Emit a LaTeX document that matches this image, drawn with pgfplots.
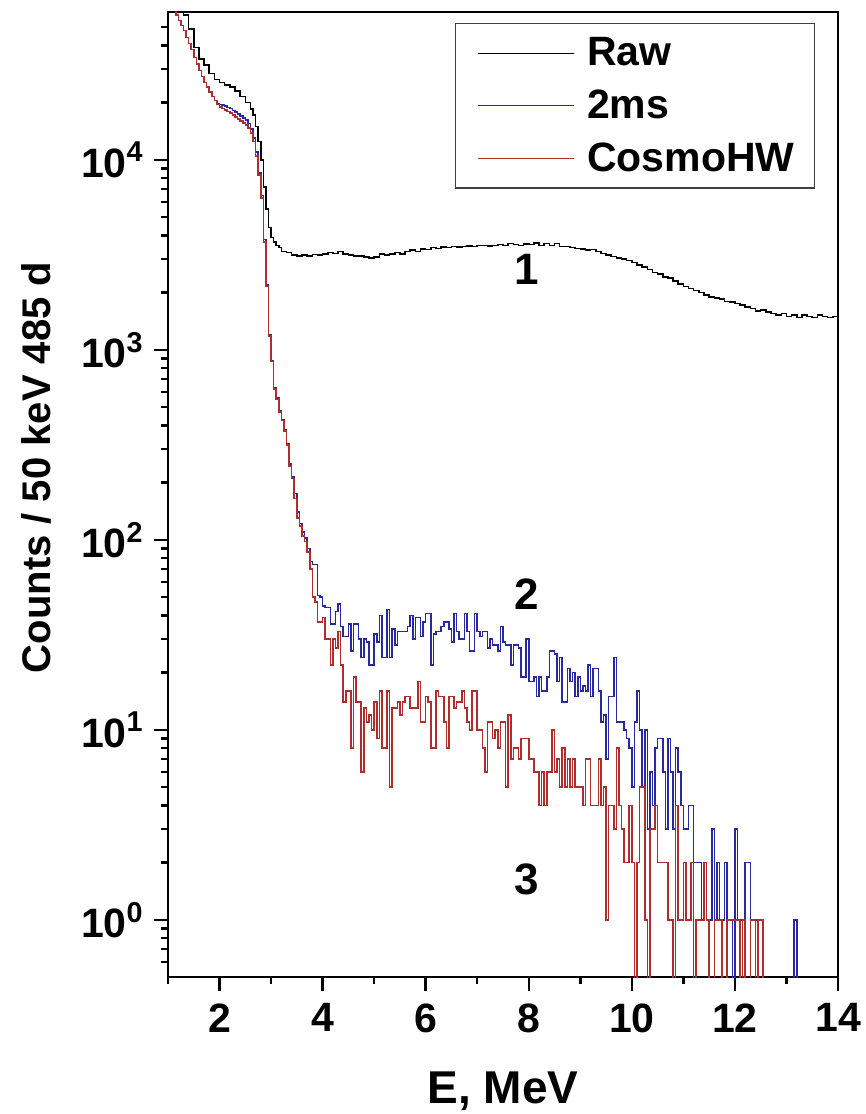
\documentclass[border=0pt]{standalone}
\usepackage{fontspec}
\setmainfont{Liberation Sans}
\usepackage{pgfplots}
\pgfplotsset{compat=1.18}
\usepackage{pgfplotstable}
\definecolor{cblue}{RGB}{40,40,160}
\definecolor{cred}{RGB}{175,45,45}

\pgfplotstableread[row sep=\\]{
E y\\
1.0 100000\\ 1.1 85000\\ 1.2 70000\\ 1.3 58000\\ 1.4 49000\\ 1.5 39000\\ 1.6 34000\\ 1.7 31500\\
1.8 28500\\ 1.9 26500\\ 2.0 25500\\ 2.1 24800\\ 2.2 24200\\ 2.3 23000\\ 2.4 21500\\ 2.5 20000\\
2.6 18500\\ 2.65 17200\\ 2.70 15000\\ 2.75 12500\\ 2.80 10000\\ 2.85 7200\\ 2.90 5500\\ 2.95 4400\\
3.00 3900\\ 3.05 3700\\ 3.10 3550\\ 3.15 3450\\ 3.20 3300\\ 3.3 3250\\ 3.4 3150\\ 3.5 3120\\
3.6 3150\\ 3.7 3120\\ 3.8 3180\\ 3.9 3150\\ 4.0 3200\\ 4.1 3250\\ 4.2 3220\\ 4.3 3300\\
4.4 3200\\ 4.5 3150\\ 4.6 3120\\ 4.7 3120\\ 4.8 3080\\ 4.9 3050\\ 5.0 3080\\ 5.1 3200\\
5.2 3150\\ 5.3 3200\\ 5.4 3250\\ 5.5 3200\\ 5.6 3300\\ 5.7 3350\\ 5.8 3300\\ 5.9 3400\\
6.0 3380\\ 6.1 3450\\ 6.2 3420\\ 6.3 3480\\ 6.4 3450\\ 6.5 3500\\ 6.6 3480\\ 6.7 3500\\
6.8 3520\\ 6.9 3500\\ 7.0 3550\\ 7.1 3550\\ 7.2 3520\\ 7.3 3550\\ 7.4 3580\\ 7.5 3550\\
7.6 3620\\ 7.7 3580\\ 7.8 3550\\ 7.9 3600\\ 8.0 3580\\ 8.1 3650\\ 8.2 3550\\ 8.3 3620\\
8.4 3550\\ 8.5 3620\\ 8.6 3500\\ 8.7 3500\\ 8.8 3450\\ 8.9 3420\\ 9.0 3400\\ 9.1 3350\\
9.2 3380\\ 9.3 3300\\ 9.4 3220\\ 9.5 3150\\ 9.6 3100\\ 9.7 3050\\ 9.8 3000\\ 9.9 2950\\
10.0 2880\\ 10.1 2800\\ 10.2 2720\\ 10.3 2650\\ 10.4 2550\\ 10.5 2500\\ 10.6 2420\\ 10.7 2380\\
10.8 2300\\ 10.9 2220\\ 11.0 2150\\ 11.1 2100\\ 11.2 2050\\ 11.3 2000\\ 11.4 1950\\ 11.5 1900\\
11.6 1880\\ 11.7 1850\\ 11.8 1800\\ 11.9 1780\\ 12.0 1750\\ 12.1 1720\\ 12.2 1680\\ 12.3 1650\\
12.4 1600\\ 12.5 1620\\ 12.6 1580\\ 12.7 1550\\ 12.8 1520\\ 12.9 1550\\ 13.0 1500\\ 13.1 1520\\
13.2 1480\\ 13.3 1520\\ 13.4 1500\\ 13.5 1480\\ 13.6 1520\\ 13.7 1500\\ 13.8 1480\\ 13.9 1500\\
14.0 1500\\
}\rawdata

\pgfplotstableread[row sep=\\]{
E y\\
1.00 80000\\ 1.05 70000\\ 1.10 62000\\ 1.15 58000\\ 1.20 54000\\ 1.25 51000\\ 1.30 48000\\ 1.35 44000\\
1.40 41000\\ 1.45 38000\\ 1.50 34500\\ 1.55 32000\\ 1.60 29500\\ 1.65 27500\\ 1.70 25500\\ 1.75 24200\\
1.80 22800\\ 1.85 21500\\ 1.90 20500\\ 1.95 19800\\ 2.00 19600\\ 2.05 19400\\ 2.10 19200\\ 2.15 18900\\
2.20 18600\\ 2.25 18200\\ 2.30 17800\\ 2.35 17400\\ 2.40 17000\\ 2.45 16600\\ 2.50 16200\\ 2.55 15500\\
2.60 14500\\ 2.65 13000\\ 2.70 11000\\ 2.75 8500\\ 2.80 6500\\ 2.85 3800\\ 2.90 2200\\ 2.95 1200\\
3.00 880\\ 3.05 630\\ 3.10 560\\ 3.15 480\\ 3.20 430\\ 3.25 380\\ 3.30 320\\ 3.35 250\\
3.40 214\\ 3.45 175\\ 3.50 140\\ 3.55 122\\ 3.60 110\\ 3.65 102\\ 3.70 90\\ 3.75 77\\
3.80 74\\ 3.85 74\\ 3.90 51\\ 3.95 50\\ 4.00 45\\ 4.05 44\\ 4.10 44\\ 4.15 36\\
4.20 36\\ 4.25 42\\ 4.30 46\\ 4.35 35\\ 4.40 31\\ 4.45 31\\ 4.50 36\\ 4.55 26\\
4.60 36\\ 4.65 36\\ 4.70 30\\ 4.75 24\\ 4.80 30\\ 4.85 29\\ 4.90 22\\ 4.95 22\\
5.00 32\\ 5.05 29\\ 5.10 40\\ 5.15 24\\ 5.20 24\\ 5.25 43\\ 5.30 24\\ 5.35 34\\
5.40 28\\ 5.45 33\\ 5.50 33\\ 5.55 33\\ 5.60 33\\ 5.65 35\\ 5.70 40\\ 5.75 30\\
5.80 39\\ 5.85 39\\ 5.90 31\\ 5.95 37\\ 6.00 41\\ 6.05 41\\ 6.10 22\\ 6.15 32\\
6.20 33\\ 6.25 33\\ 6.30 35\\ 6.35 37\\ 6.40 37\\ 6.45 34\\ 6.50 29\\ 6.55 41\\
6.60 33\\ 6.65 30\\ 6.70 30\\ 6.75 41\\ 6.80 33\\ 6.85 26\\ 6.90 26\\ 6.95 41\\
7.00 33\\ 7.05 31\\ 7.10 33\\ 7.15 33\\ 7.20 27\\ 7.25 30\\ 7.30 28\\ 7.35 28\\
7.40 26\\ 7.45 35\\ 7.50 29\\ 7.55 28\\ 7.60 28\\ 7.65 22\\ 7.70 28\\ 7.75 28\\
7.80 27\\ 7.85 19\\ 7.90 19\\ 7.95 30\\ 8.00 18\\ 8.05 18\\ 8.10 19\\ 8.15 15\\
8.20 19\\ 8.25 16\\ 8.30 16\\ 8.35 19\\ 8.40 26\\ 8.45 26\\ 8.50 25\\ 8.55 18\\
8.60 24\\ 8.65 14\\ 8.70 14\\ 8.75 21\\ 8.80 18\\ 8.85 20\\ 8.90 15\\ 8.95 19\\
9.00 16\\ 9.05 17\\ 9.10 16\\ 9.15 22\\ 9.20 15\\ 9.25 21\\ 9.30 21\\ 9.35 16\\
9.40 11\\ 9.45 12\\ 9.50 7\\ 9.55 15\\ 9.60 15\\ 9.65 24\\ 9.70 11\\ 9.75 11\\
9.80 11\\ 9.85 10\\ 9.90 9\\ 9.95 8\\ 10.00 5\\ 10.05 11\\ 10.10 16\\ 10.15 10\\
10.20 5\\ 10.25 10\\ 10.30 3\\ 10.35 6\\ 10.40 4\\ 10.45 8\\ 10.50 9\\ 10.55 9\\
10.60 6\\ 10.65 3\\ 10.70 9\\ 10.75 6\\ 10.80 3\\ 10.85 8\\ 10.90 6\\ 10.95 4\\
11.00 3\\ 11.05 3\\ 11.10 4\\ 11.15 4\\ 11.20 2\\ 11.25 2\\ 11.30 2\\ 11.35 1\\
11.40 2\\ 11.45 1\\ 11.50 1\\ 11.55 3\\ 11.60 1\\ 11.65 2\\ 11.70 1\\ 11.75 1\\
11.80 2\\ 11.85 1\\ 11.90 1\\ 11.95 0.1\\ 12.00 3\\ 12.05 1\\ 12.10 1\\ 12.15 1\\
12.20 2\\ 12.25 2\\ 12.30 1\\ 12.35 1\\ 12.40 1\\ 12.45 1\\ 12.50 1\\ 12.55 0.1\\
13.15 1\\ 13.20 0.1\\ 13.25 0.1\\
}\bluedata

\pgfplotstableread[row sep=\\]{
E y\\
1.00 80000\\ 1.05 70000\\ 1.10 62000\\ 1.15 58000\\ 1.20 54000\\ 1.25 51000\\ 1.30 48000\\ 1.35 44000\\
1.40 41000\\ 1.45 38000\\ 1.50 34500\\ 1.55 32000\\ 1.60 29500\\ 1.65 27500\\ 1.70 25500\\ 1.75 24200\\
1.80 22800\\ 1.85 21500\\ 1.90 20500\\ 1.95 19600\\ 2.00 19000\\ 2.05 18600\\ 2.10 18300\\ 2.15 18000\\
2.20 17600\\ 2.25 17200\\ 2.30 16800\\ 2.35 16400\\ 2.40 16000\\ 2.45 15600\\ 2.50 15200\\ 2.55 14700\\
2.60 13800\\ 2.65 12500\\ 2.70 10500\\ 2.75 8300\\ 2.80 6300\\ 2.85 3700\\ 2.90 2150\\ 2.95 1180\\
3.00 870\\ 3.05 620\\ 3.10 550\\ 3.15 470\\ 3.20 425\\ 3.25 375\\ 3.30 315\\ 3.35 245\\
3.40 210\\ 3.45 165\\ 3.50 130\\ 3.55 118\\ 3.60 105\\ 3.65 98\\ 3.70 86\\ 3.75 70\\
3.80 50\\ 3.85 47\\ 3.90 37\\ 3.95 37\\ 4.00 39\\ 4.05 30\\ 4.10 30\\ 4.15 22\\
4.20 30\\ 4.25 27\\ 4.30 33\\ 4.35 22\\ 4.40 14\\ 4.45 16\\ 4.50 16\\ 4.55 8\\
4.60 19\\ 4.65 14\\ 4.70 14\\ 4.75 6\\ 4.80 13\\ 4.85 11\\ 4.90 12\\ 4.95 10\\
5.00 14\\ 5.05 9\\ 5.10 16\\ 5.15 8\\ 5.20 8\\ 5.25 16\\ 5.30 5\\ 5.35 13\\
5.40 13\\ 5.45 14\\ 5.50 12\\ 5.55 14\\ 5.60 15\\ 5.65 15\\ 5.70 13\\ 5.75 13\\
5.80 13\\ 5.85 18\\ 5.90 11\\ 5.95 11\\ 6.00 15\\ 6.05 14\\ 6.10 8\\ 6.15 8\\
6.20 16\\ 6.25 15\\ 6.30 15\\ 6.35 11\\ 6.40 8\\ 6.45 15\\ 6.50 15\\ 6.55 13\\
6.60 14\\ 6.65 14\\ 6.70 16\\ 6.75 13\\ 6.80 11\\ 6.85 10\\ 6.90 16\\ 6.95 16\\
7.00 10\\ 7.05 10\\ 7.10 8\\ 7.15 6\\ 7.20 11\\ 7.25 11\\ 7.30 9\\ 7.35 10\\
7.40 8\\ 7.45 11\\ 7.50 11\\ 7.55 5\\ 7.60 12\\ 7.65 7\\ 7.70 8\\ 7.75 8\\
7.80 7\\ 7.85 9\\ 7.90 9\\ 7.95 9\\ 8.00 7\\ 8.05 7\\ 8.10 6\\ 8.15 6\\
8.20 4\\ 8.25 6\\ 8.30 4\\ 8.35 6\\ 8.40 6\\ 8.45 10\\ 8.50 6\\ 8.55 7\\
8.60 5\\ 8.65 8\\ 8.70 5\\ 8.75 7\\ 8.80 5\\ 8.85 7\\ 8.90 5\\ 8.95 5\\
9.00 5\\ 9.05 4\\ 9.10 7\\ 9.15 7\\ 9.20 4\\ 9.25 4\\ 9.30 4\\ 9.35 7\\
9.40 4\\ 9.45 5\\ 9.50 1\\ 9.55 4\\ 9.60 4\\ 9.65 3\\ 9.70 8\\ 9.75 4\\
9.80 3\\ 9.85 2\\ 9.90 2\\ 9.95 4\\ 10.00 2\\ 10.05 0.1\\ 10.10 2\\ 10.15 5\\
10.20 5\\ 10.25 1\\ 10.30 0.1\\ 10.35 3\\ 10.40 3\\ 10.45 4\\ 10.50 2\\ 10.55 2\\
10.60 2\\ 10.65 2\\ 10.70 1\\ 10.75 1\\ 10.80 0.1\\ 10.85 4\\ 10.90 1\\ 10.95 1\\
11.00 2\\ 11.05 1\\ 11.10 1\\ 11.15 2\\ 11.20 0.1\\ 11.25 1\\ 11.30 1\\ 11.35 1\\
11.40 2\\ 11.45 1\\ 11.50 0.1\\ 11.55 0.1\\ 11.60 1\\ 11.65 1\\ 11.70 1\\ 11.75 0.1\\
11.80 0.1\\ 11.85 1\\ 11.90 1\\ 11.95 1\\ 12.00 1\\ 12.05 1\\ 12.10 0.1\\ 12.15 1\\
12.20 0.1\\ 12.25 0.1\\ 12.30 1\\ 12.35 1\\ 12.40 0.1\\ 12.45 1\\ 12.50 1\\ 12.55 0.1\\
12.60 0.1\\
}\reddata

\begin{document}
\begin{tikzpicture}
\begin{axis}[
  scale only axis, width=335pt, height=482.5pt,
  xmin=1, xmax=14, ymin=0.5, ymax=60000, ymode=log,
  axis line style={line width=1.3pt},
  every tick/.style={line width=1.2pt, black},
  major tick length=7pt, minor tick length=3.5pt,
  tick align=outside,
  xtick pos=left, ytick pos=left,
  xtick={2,4,6,8,10,12,14},
  xticklabels={2,4,6,8,10,12,14},
  minor xtick={1,3,5,7,9,11,13},
  ytick={1,10,100,1000,10000},
  yticklabels={10\textsuperscript{0},10\textsuperscript{1},10\textsuperscript{2},10\textsuperscript{3},10\textsuperscript{4}},
  minor ytick={0.6,0.7,0.8,0.9,2,3,4,5,6,7,8,9,20,30,40,50,60,70,80,90,200,300,400,500,600,700,800,900,2000,3000,4000,5000,6000,7000,8000,9000,20000,30000,40000,50000},
  xticklabel style={font=\fontsize{20.5}{23}\selectfont\bfseries, inner ysep=6pt},
  yticklabel style={font=\fontsize{20.5}{23}\selectfont\bfseries, inner xsep=5pt},
  xlabel={E, MeV},
  ylabel={Counts / 50 keV 485 d},
  xlabel style={font=\fontsize{23}{27}\selectfont\bfseries, at={(axis description cs:0.5,0)}, anchor=base, yshift=-63pt},
  ylabel style={font=\fontsize{20}{24}\selectfont\bfseries, at={(axis description cs:-0.176,0.528)}, anchor=base},
  legend style={at={(axis description cs:0.9657,0.9886)}, anchor=north east,
    draw=black!75, line width=0.6pt, font=\fontsize{20.5}{24}\selectfont\bfseries,
    inner xsep=8pt, inner ysep=5pt, row sep=6.5pt,
    /tikz/every odd column/.append style={column sep=4.5pt}},
  legend cell align=left,
  legend image code/.code={\path (0pt,0pt); \draw[#1, line width=0.5pt] (2.5pt,0pt) -- (50.5pt,0pt);},
  clip=true,
]
\addplot[const plot, black, line width=0.8pt] table[x=E, y=y] {\rawdata};
\addlegendentry{Raw}
\addplot[const plot, cblue, line width=0.8pt] table[x=E, y=y] {\bluedata};
\addlegendentry{2ms}
\addplot[const plot, cred, line width=0.8pt] table[x=E, y=y] {\reddata};
\addlegendentry{CosmoHW}
\node[font=\fontsize{22}{25}\selectfont\bfseries] at (axis cs:7.97,2640) {1};
\node[font=\fontsize{22}{25}\selectfont\bfseries] at (axis cs:7.97,52) {2};
\node[font=\fontsize{22}{25}\selectfont\bfseries] at (axis cs:7.97,1.63) {3};
\end{axis}
\pgfresetboundingbox
\path[use as bounding box] ([shift={(-84pt,-68.5pt)}]current axis.south west) rectangle ([shift={(14pt,6pt)}]current axis.north east);
\end{tikzpicture}
\end{document}
